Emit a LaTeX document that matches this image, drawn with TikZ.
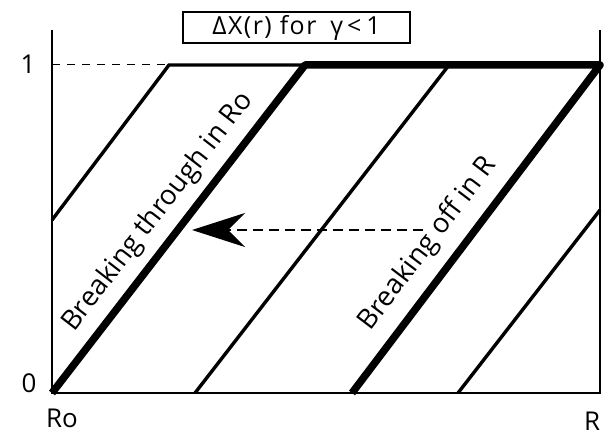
\documentclass[tikz,border=0pt]{standalone}
\usepackage{fontspec}
\setmainfont{Open Sans}
\usetikzlibrary{arrows.meta}
\newcommand\lblfont{\fontsize{26}{30}\selectfont}
\newcommand\slfont{\fontsize{27.5}{32}\selectfont}
\newcommand\ttlfont{\fontsize{25}{29}\selectfont\addfontfeature{LetterSpace=6}}
\tikzset{
  axisline/.style={line width=1.4bp, line join=miter},
  thinslant/.style={line width=3.4bp},
  thickslant/.style={line width=7.5bp, line join=round},
  levelline/.style={line width=1bp, dash pattern=on 8bp off 7bp},
  movearrow/.style={line width=2.5bp, dash pattern=on 10bp off 6bp,
     -{Stealth[length=53bp, width=34bp, inset=17bp]}},
  lbl/.style={font=\lblfont, inner sep=0pt},
  slantlbl/.style={font=\slfont, inner sep=0pt},
  titlebox/.style={draw, line width=1.3bp, minimum width=227bp, minimum height=31bp,
     inner sep=0pt, font=\ttlfont}
}
\begin{document}
\begin{tikzpicture}[x=1bp, y=-1bp]
\useasboundingbox (0,0) rectangle (604,433);
% frame coordinates
\coordinate (LT) at (52,30);
\coordinate (O) at (52,393);
\coordinate (RB) at (600,393);
\coordinate (RT) at (600,30);
\coordinate (Lone) at (52,65);
\coordinate (A) at (169,65);
\coordinate (B) at (305,65);
\coordinate (C) at (600,65);
\coordinate (T1a) at (52,220);
\coordinate (T2a) at (195,393);
\coordinate (T2b) at (449,65);
\coordinate (K2a) at (352,393);
\coordinate (T3a) at (458,393);
\coordinate (T3b) at (600,210);
\coordinate (arrS) at (423,230);
\coordinate (arrE) at (192,230);
% axes
\draw[axisline] (LT) -- (O) -- (RB) -- (RT);
% level 1
\draw[levelline] (Lone) -- (A);
\draw[thinslant] (T1a) -- (A) -- (B);
% thick path
\draw[thickslant] (O) -- (B) -- (C) -- (K2a);
% thin slanted
\draw[thinslant] (T2a) -- (T2b);
\draw[thinslant] (T3a) -- (T3b);
% arrow
\draw[movearrow] (arrS) -- (arrE);
% labels
\node[lbl] (one) at (28,64) {1};
\node[lbl] (zero) at (29,383) {0};
\node[lbl] (Ro) at (62,418) {Ro};
\node[lbl] (R) at (592,421) {R};
\node[titlebox] (title) at (296.5,27.5) {ΔX(r)\hspace{8bp}for\hspace{14bp}γ\hspace{4bp}<\hspace{5bp}1};
\node[slantlbl, rotate=52.3] (bt) at (158,212) {Breaking through in Ro};
\node[slantlbl, rotate=52.8] (bo) at (428,244) {Breaking off in R};
\end{tikzpicture}
\end{document}
